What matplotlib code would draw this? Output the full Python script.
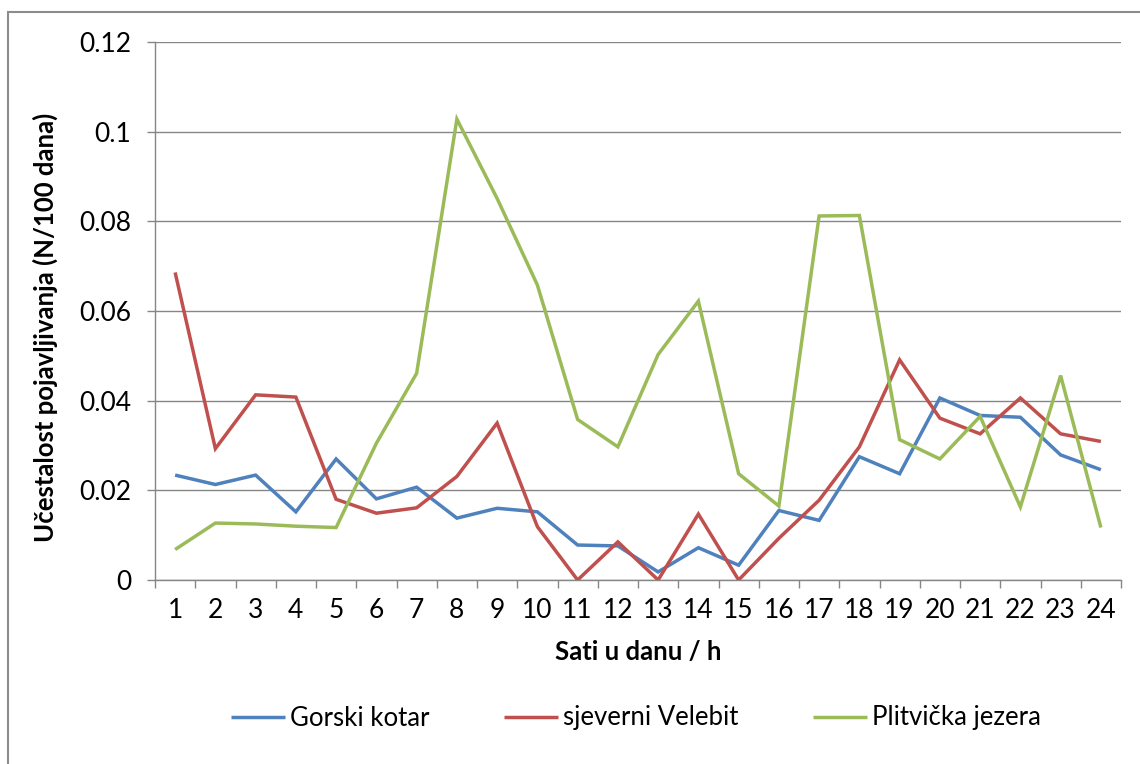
import matplotlib
matplotlib.use("Agg")
import matplotlib.pyplot as plt
from matplotlib.patches import Rectangle
from matplotlib.ticker import FixedLocator, NullFormatter

plt.rcParams['font.family'] = ['Lato', 'DejaVu Sans']

# hourly occurrence frequency per area
hours = list(range(1, 25))
gorski_kotar = [0.0234, 0.0213, 0.0234, 0.0152, 0.0270, 0.0181, 0.0207, 0.0138,
                0.0160, 0.0152, 0.0078, 0.0076, 0.0018, 0.0072, 0.0033, 0.0155,
                0.0133, 0.0275, 0.0237, 0.0406, 0.0367, 0.0363, 0.0279, 0.0246]
sjeverni_velebit = [0.0686, 0.0293, 0.0413, 0.0408, 0.0180, 0.0149, 0.0161, 0.0231,
                    0.0350, 0.0119, 0.0, 0.0085, 0.0, 0.0147, 0.0, 0.0093,
                    0.0178, 0.0297, 0.0491, 0.0361, 0.0326, 0.0406, 0.0326, 0.0309]
plitvicka_jezera = [0.0068, 0.0127, 0.0125, 0.0120, 0.0117, 0.0305, 0.0461, 0.1028,
                    0.0851, 0.0658, 0.0358, 0.0297, 0.0503, 0.0622, 0.0237, 0.0165,
                    0.0812, 0.0813, 0.0313, 0.0270, 0.0365, 0.0163, 0.0456, 0.0117]

series_names = ["Gorski kotar", "sjeverni Velebit", "Plitvička jezera"]
series_colors = ["#4F81BD", "#C0504D", "#9BBB59"]

y_ticks = [0, 0.02, 0.04, 0.06, 0.08, 0.10, 0.12]
y_tick_labels = ["0", "0.02", "0.04", "0.06", "0.08", "0.1", "0.12"]

W, H = 1140, 764
fig = plt.figure(figsize=(W / 100, H / 100), dpi=100)
ax = fig.add_axes([155 / W, 1 - 580 / H, (1121 - 155) / W, (580 - 42) / H])

gray = "#868686"

for vals, name, col in zip([gorski_kotar, sjeverni_velebit, plitvicka_jezera],
                           series_names, series_colors):
    ax.plot(hours, vals, color=col, lw=2.5, label=name, solid_joinstyle="miter",
            solid_capstyle="butt")

ax.set_xlim(0.5, 24.5)
ax.set_ylim(0, 0.12)

ax.set_yticks(y_ticks)
ax.set_yticklabels(y_tick_labels)
ax.yaxis.grid(True, color=gray, lw=1.0)
ax.set_axisbelow(True)

ax.set_xticks(hours)
ax.set_xticklabels([str(h) for h in hours])
ax.xaxis.set_minor_locator(FixedLocator([h + 0.5 for h in range(0, 25)]))
ax.xaxis.set_minor_formatter(NullFormatter())
ax.tick_params(axis="x", which="major", length=0, pad=13, labelsize=19)
ax.tick_params(axis="x", which="minor", length=6, width=1, color=gray)
ax.tick_params(axis="y", length=6, width=1, color=gray, pad=11, labelsize=19)

for s in ["top", "right"]:
    ax.spines[s].set_visible(False)
for s in ["left", "bottom"]:
    ax.spines[s].set_color(gray)
    ax.spines[s].set_linewidth(1.0)

ax.set_xlabel("Sati u danu / h", fontsize=18.5, fontweight="bold", labelpad=12)
ax.set_ylabel("Učestalost pojavljivanja (N/100 dana)", fontsize=18.5,
              fontweight="bold")
ax.yaxis.set_label_coords(-0.1, 0.47)

fig.legend(loc="center", bbox_to_anchor=(636 / W, 1 - 718 / H), ncol=3,
           frameon=False, fontsize=18.5, handlelength=2.1, handletextpad=0.2,
           columnspacing=2.9)

# chart frame
fig.patches.append(Rectangle((8 / W, -0.05), 1.2, 1.05 - 12 / H,
                             transform=fig.transFigure, fill=False,
                             edgecolor="#8c8c8c", lw=1.5))

fig.savefig("out.png", dpi=100)
